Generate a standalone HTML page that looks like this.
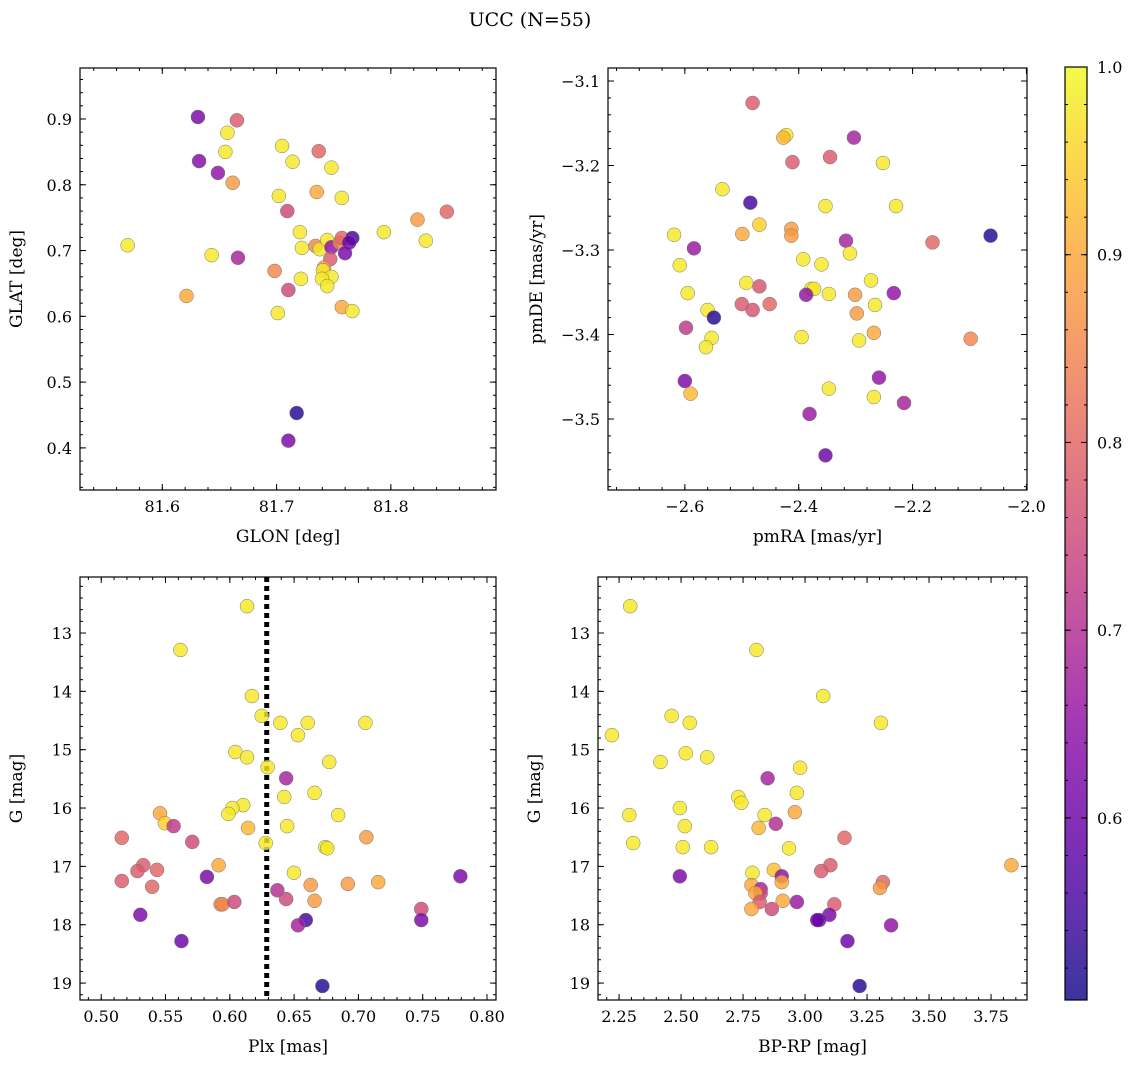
<!DOCTYPE html>
<html><head><meta charset="utf-8"><style>
html,body{margin:0;padding:0;background:#fff;}
svg{display:block;font-family:"DejaVu Serif","Liberation Serif",serif;}
</style></head><body>
<svg id="chart" width="1136" height="1067" viewBox="0 0 1136 1067" xmlns="http://www.w3.org/2000/svg">
<text x="530" y="26" font-size="19" text-anchor="middle">UCC (N=55)</text>
</svg>
<script>
// ---- Panel 1: GLON / GLAT ----
const p1Lon=[81.6312,81.6653,81.6570,81.6322,81.6552,81.7048,81.7369,81.6487,81.7140,81.7480,81.6616,81.7351,81.7020,81.7571,81.7094,81.8233,81.8490,81.7939,81.5697,81.6662,81.6432,81.8306,81.6212,81.7176,81.7103,81.7204,81.7222,81.7341,81.7378,81.7443,81.7480,81.7553,81.7571,81.7663,81.7635,81.7599,81.7470,81.7415,81.7406,81.7480,81.7397,81.7443,81.7213,81.7103,81.6983,81.7011,81.7571,81.7663];
const p1Lat=[0.903,0.898,0.879,0.836,0.850,0.859,0.851,0.818,0.835,0.826,0.803,0.789,0.783,0.780,0.760,0.747,0.759,0.728,0.708,0.689,0.693,0.715,0.631,0.453,0.411,0.728,0.704,0.707,0.702,0.716,0.705,0.712,0.719,0.719,0.712,0.696,0.687,0.674,0.670,0.660,0.657,0.646,0.657,0.640,0.669,0.605,0.614,0.608];
const p1Col=[0.62,0.78,0.98,0.63,0.98,0.98,0.8,0.65,0.98,0.98,0.88,0.9,0.98,0.98,0.75,0.88,0.8,0.98,0.98,0.68,0.98,0.98,0.9,0.52,0.62,0.98,0.98,0.85,0.98,0.98,0.65,0.85,0.8,0.55,0.6,0.62,0.78,0.88,0.98,0.98,0.98,0.98,0.98,0.75,0.85,0.98,0.9,0.98];
// ---- Panel 2: pmRA / pmDE ----
const p2RA=[-2.481,-2.422,-2.427,-2.303,-2.345,-2.411,-2.252,-2.534,-2.485,-2.353,-2.229,-2.469,-2.619,-2.063,-2.499,-2.413,-2.413,-2.584,-2.317,-2.392,-2.310,-2.360,-2.609,-2.273,-2.492,-2.469,-2.378,-2.373,-2.387,-2.595,-2.301,-2.233,-2.347,-2.451,-2.266,-2.165,-2.500,-2.481,-2.560,-2.298,-2.549,-2.553,-2.294,-2.268,-2.395,-2.598,-2.563,-2.098,-2.600,-2.259,-2.347,-2.590,-2.268,-2.381,-2.215,-2.353];
const p2DE=[-3.126,-3.164,-3.167,-3.167,-3.190,-3.196,-3.197,-3.228,-3.244,-3.248,-3.248,-3.270,-3.282,-3.283,-3.281,-3.275,-3.283,-3.298,-3.289,-3.311,-3.304,-3.317,-3.318,-3.336,-3.339,-3.343,-3.346,-3.346,-3.353,-3.351,-3.353,-3.351,-3.352,-3.364,-3.365,-3.291,-3.364,-3.371,-3.371,-3.375,-3.380,-3.404,-3.407,-3.398,-3.403,-3.392,-3.415,-3.405,-3.455,-3.451,-3.464,-3.470,-3.474,-3.494,-3.481,-3.543];
const p2Col=[0.78,0.98,0.92,0.68,0.78,0.78,0.98,0.98,0.55,0.98,0.98,0.95,0.98,0.52,0.9,0.88,0.88,0.66,0.68,0.98,0.98,0.98,0.98,0.98,0.98,0.77,0.98,0.98,0.65,0.98,0.88,0.65,0.98,0.8,0.98,0.8,0.78,0.77,0.98,0.88,0.52,0.98,0.98,0.9,0.98,0.72,0.98,0.85,0.62,0.65,0.98,0.92,0.98,0.66,0.68,0.6];
// ---- Panel 3: Plx / G ----
const p3Plx=[0.6134,0.5616,0.6172,0.6248,0.6393,0.6606,0.7055,0.6530,0.6043,0.6134,0.6773,0.6294,0.6438,0.6423,0.6104,0.6659,0.6020,0.5989,0.6842,0.5457,0.6446,0.5495,0.6142,0.5563,0.5708,0.5160,0.7062,0.6279,0.5913,0.5327,0.5282,0.5434,0.6743,0.6758,0.6499,0.5822,0.7793,0.5160,0.5396,0.6629,0.6918,0.7154,0.6370,0.6438,0.5928,0.5944,0.6035,0.6659,0.7489,0.5304,0.6591,0.6530,0.7489,0.5624,0.6720];
const p3G=[12.54,13.29,14.08,14.42,14.54,14.54,14.54,14.75,15.04,15.13,15.21,15.30,15.49,15.81,15.95,15.74,16.00,16.10,16.12,16.09,16.31,16.26,16.34,16.31,16.58,16.51,16.50,16.60,16.98,16.98,17.08,17.06,16.67,16.69,17.11,17.18,17.17,17.25,17.35,17.32,17.30,17.27,17.41,17.56,17.65,17.65,17.61,17.59,17.73,17.83,17.92,18.01,17.92,18.28,19.05];
const p3Col=[0.98,0.98,0.98,0.98,0.98,0.98,0.98,0.98,0.98,0.98,0.98,0.98,0.68,0.98,0.98,0.98,0.98,0.98,0.98,0.9,0.98,0.95,0.92,0.72,0.75,0.8,0.88,0.98,0.9,0.78,0.78,0.8,0.98,0.98,0.98,0.62,0.62,0.78,0.8,0.88,0.88,0.9,0.7,0.75,0.85,0.85,0.75,0.88,0.75,0.62,0.55,0.68,0.62,0.6,0.52];
const p3MeanPlx=0.6287;
// ---- Panel 4: BP-RP / G ----
const p4BR=[2.295,2.804,2.462,2.535,2.221,2.417,2.519,3.073,3.306,2.605,2.980,2.849,2.731,2.743,2.967,2.495,2.291,2.959,2.515,2.837,2.813,2.882,3.159,2.307,2.621,2.507,2.935,2.874,2.788,3.102,3.065,2.495,2.906,2.784,2.906,3.832,3.314,3.302,2.821,2.821,2.800,2.817,2.910,2.967,2.784,2.866,3.118,3.098,3.057,3.049,3.347,3.171,3.220];
const p4G=[12.54,13.29,14.42,14.54,14.75,15.21,15.06,14.08,14.54,15.13,15.31,15.49,15.81,15.91,15.74,16.00,16.12,16.07,16.31,16.12,16.34,16.27,16.51,16.60,16.67,16.67,16.69,17.06,17.11,16.98,17.08,17.17,17.17,17.32,17.27,16.98,17.27,17.37,17.39,17.46,17.46,17.61,17.59,17.61,17.73,17.73,17.65,17.83,17.92,17.92,18.01,18.28,19.05];
const p4Col=[0.98,0.98,0.98,0.98,0.98,0.98,0.98,0.98,0.98,0.98,0.98,0.68,0.98,0.98,0.98,0.98,0.98,0.9,0.98,0.98,0.92,0.7,0.8,0.98,0.98,0.98,0.98,0.93,0.98,0.78,0.78,0.62,0.65,0.9,0.9,0.9,0.8,0.88,0.68,0.75,0.9,0.78,0.9,0.66,0.9,0.75,0.78,0.62,0.6,0.6,0.65,0.6,0.52];
// ---- Colorbar ----
const cbTicks=[0.6,0.7,0.8,0.9,1.0];
const cbMin=0.503, cbMax=1.0;

const NS="http://www.w3.org/2000/svg";
const svg=document.getElementById('chart');
const stops=[[0,'#0d0887'],[.1,'#41049d'],[.2,'#6a00a8'],[.3,'#8f0da4'],[.4,'#b12a90'],[.5,'#cc4778'],[.6,'#e16462'],[.7,'#f2844b'],[.8,'#fca636'],[.9,'#fcce25'],[1,'#f0f921']];
function hex(h){return [1,3,5].map(i=>parseInt(h.substr(i,2),16));}
function plasma(v){
  let t=Math.max(0,Math.min(1,(v-0.5)/0.5));
  for(let i=0;i<stops.length-1;i++){
    if(t<=stops[i+1][0]){
      const f=(t-stops[i][0])/(stops[i+1][0]-stops[i][0]);
      const a=hex(stops[i][1]),b=hex(stops[i+1][1]);
      return 'rgb('+a.map((c,k)=>Math.round(c+(b[k]-c)*f)).join(',')+')';
    }
  }
  return stops[stops.length-1][1];
}
function el(tag,attrs,parent){const e=document.createElementNS(NS,tag);for(const k in attrs)e.setAttribute(k,attrs[k]);(parent||svg).appendChild(e);return e;}
function fmt(v,d){return (v<0?'\u2212':'')+Math.abs(v).toFixed(d);}

function panel(cfg){
  const g=el('g',{});
  
  
  const sx=v=>cfg.x0+(v-cfg.xd[0])/(cfg.xd[1]-cfg.xd[0])*(cfg.x1-cfg.x0);
  const sy=v=>cfg.y1-(v-cfg.yd[0])/(cfg.yd[1]-cfg.yd[0])*(cfg.y1-cfg.y0);
  const tg=el('g',{stroke:'#000','stroke-width':1},g);
  function ticksX(step,len,labels,dec){
    const lo=Math.min(...cfg.xd),hi=Math.max(...cfg.xd);
    const s=Math.ceil(lo/step-1e-6);
    for(let k=s;k*step<=hi+step*1e-4;k++){
      const v=+(k*step).toFixed(6),x=sx(v);
      el('line',{x1:x,x2:x,y1:cfg.y1,y2:cfg.y1-len},tg);
      el('line',{x1:x,x2:x,y1:cfg.y0,y2:cfg.y0+len},tg);
      if(labels){
        const t=el('text',{x:x,y:cfg.y1+22,'font-size':16,'text-anchor':'middle',stroke:'none'},g);
        
        
        t.textContent=fmt(v,dec);
      }
    }
  }
  function ticksY(step,len,labels,dec){
    const lo=Math.min(...cfg.yd),hi=Math.max(...cfg.yd);
    const s=Math.ceil(lo/step-1e-6);
    for(let k=s;k*step<=hi+step*1e-4;k++){
      const v=+(k*step).toFixed(6),y=sy(v);
      el('line',{x1:cfg.x0,x2:cfg.x0+len,y1:y,y2:y},tg);
      el('line',{x1:cfg.x1,x2:cfg.x1-len,y1:y,y2:y},tg);
      if(labels){
        const t=el('text',{x:cfg.x0-8,y:y+6,'font-size':16,'text-anchor':'end',stroke:'none'},g);
        
        
        t.textContent=fmt(v,dec);
      }
    }
  }
  ticksX(cfg.xmaj,6,true,cfg.xdec);ticksX(cfg.xmin,3,false);
  ticksY(cfg.ymaj,6,true,cfg.ydec);ticksY(cfg.ymin,3,false);
  if(cfg.vline!==undefined){
    const vl=el('line',{x1:sx(cfg.vline),x2:sx(cfg.vline),y1:cfg.y0,y2:cfg.y1,stroke:'#000','stroke-width':5,'stroke-dasharray':'5,4'},g);
    
    
  }
  const pg=el('g',{},g);
  for(let i=0;i<cfg.xs.length;i++){
    const c=el('circle',{cx:sx(cfg.xs[i]),cy:sy(cfg.ys[i]),r:7,fill:plasma(cfg.cs[i]),'fill-opacity':0.82,stroke:'#777','stroke-width':0.5},pg);
    
    
  }
  const fr=el('rect',{x:cfg.x0,y:cfg.y0,width:cfg.x1-cfg.x0,height:cfg.y1-cfg.y0,fill:'none',stroke:'#000','stroke-width':1.2},g);
  
  
  const xt=el('text',{x:(cfg.x0+cfg.x1)/2,y:cfg.y1+52,'font-size':17,'text-anchor':'middle'},g);
  
  
  xt.textContent=cfg.xlabel;
  const yx=cfg.x0-cfg.ylabOff, yy=(cfg.y0+cfg.y1)/2;
  const yt=el('text',{x:yx,y:yy,'font-size':17,'text-anchor':'middle',transform:'rotate(-90 '+yx+' '+yy+')'},g);
  
  
  yt.textContent=cfg.ylabel;
}

panel({name:'glon-glat-panel',x0:80,x1:496,y0:68,y1:490,xd:[81.528,81.892],yd:[0.336,0.9775],xmaj:0.1,xmin:0.02,ymaj:0.1,ymin:0.02,xdec:1,ydec:1,xs:p1Lon,ys:p1Lat,cs:p1Col,xlabel:'GLON [deg]',ylabel:'GLAT [deg]',ylabOff:58});
panel({name:'pm-panel',x0:608,x1:1027,y0:68,y1:490,xd:[-2.735,-1.999],yd:[-3.584,-3.0846],xmaj:0.2,xmin:0.04,ymaj:0.1,ymin:0.02,xdec:1,ydec:1,xs:p2RA,ys:p2DE,cs:p2Col,xlabel:'pmRA [mas/yr]',ylabel:'pmDE [mas/yr]',ylabOff:66});
panel({name:'plx-g-panel',x0:80,x1:496,y0:577,y1:1000,xd:[0.4835,0.807],yd:[19.29,12.04],xmaj:0.05,xmin:0.01,ymaj:1,ymin:0.2,xdec:2,ydec:0,xs:p3Plx,ys:p3G,cs:p3Col,xlabel:'Plx [mas]',ylabel:'G [mag]',ylabOff:58,vline:p3MeanPlx});
panel({name:'cmd-panel',x0:598,x1:1027,y0:577,y1:1000,xd:[2.165,3.895],yd:[19.29,12.04],xmaj:0.25,xmin:0.05,ymaj:1,ymin:0.2,xdec:2,ydec:0,xs:p4BR,ys:p4G,cs:p4Col,xlabel:'BP-RP [mag]',ylabel:'G [mag]',ylabOff:58});

// colorbar
const cb=el('g',{});


const defs=el('defs',{},cb);
const lg=el('linearGradient',{id:'cbg',x1:0,y1:1,x2:0,y2:0},defs);
for(let i=0;i<=20;i++){const v=cbMin+(cbMax-cbMin)*i/20;el('stop',{offset:i/20,'stop-color':plasma(v),'stop-opacity':0.82},lg);}
const cx0=1065,cx1=1087,cy0=67,cy1=1000;
el('rect',{x:cx0,y:cy0,width:cx1-cx0,height:cy1-cy0,fill:'url(#cbg)',stroke:'#000','stroke-width':1.2},cb);
const cys=v=>cy1-(v-cbMin)/(cbMax-cbMin)*(cy1-cy0);
for(let k=Math.ceil(cbMin/0.02);k*0.02<=cbMax+1e-9;k++){const y=cys(k*0.02);el('line',{x1:cx1,x2:cx1-3,y1:y,y2:y,stroke:'#000'},cb);el('line',{x1:cx0,x2:cx0+3,y1:y,y2:y,stroke:'#000'},cb);}
cbTicks.forEach(v=>{
  const y=cys(v);
  el('line',{x1:cx1,x2:cx1-6,y1:y,y2:y,stroke:'#000'},cb);
  el('line',{x1:cx0,x2:cx0+6,y1:y,y2:y,stroke:'#000'},cb);
  const t=el('text',{x:cx1+10,y:y+6,'font-size':16},cb);
  
  
  t.textContent=v.toFixed(1);
});
</script>
</body></html>
